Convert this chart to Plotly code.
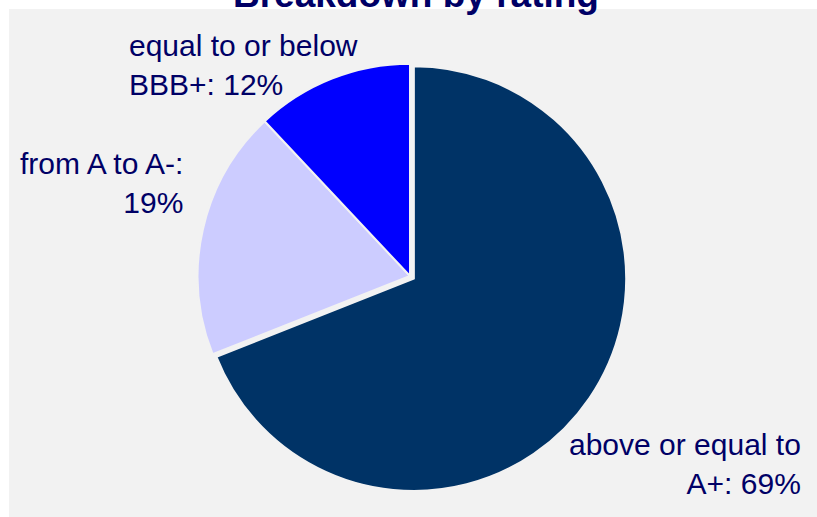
import plotly.graph_objects as go

# Rating buckets and their share of the portfolio (%)
categories = ["above or equal to A+", "from A to A-", "equal to or below BBB+"]
shares = [69, 19, 12]
label_heads = ["above or equal to", "from A to A-:", "equal to or below"]
label_tails = ["A+: ", "", "BBB+: "]
slice_colors = ["#003366", "#ccccff", "#0000ff"]
pulls = [0.022, 0, 0]

W, H = 817, 517
ML, MR, MT, MB = 20, 17, 59, 24
BG = "#f2f2f2"
TEXT = "#000066"
FONT = "Liberation Sans, Arial, sans-serif"

fig = go.Figure(
    go.Pie(
        labels=categories,
        values=shares,
        sort=False,
        direction="clockwise",
        rotation=0,
        pull=pulls,
        marker=dict(colors=slice_colors, line=dict(color=BG, width=2)),
        textinfo="none",
        showlegend=False,
        hoverinfo="skip",
    )
)

pw, ph = W - ML - MR, H - MT - MB


def to_paper(px, py):
    """Convert a pixel position (from the top-left) to paper units."""
    return (px - ML) / pw, (H - MB - py) / ph


# grey panel behind the pie, leaving a thin white frame on the top and left
x0, y1 = to_paper(9, 9)
x1, y0 = to_paper(W, H)
fig.add_shape(
    type="rect", xref="paper", yref="paper", layer="below",
    x0=x0, x1=x1, y0=y0, y1=y1,
    fillcolor=BG, line=dict(width=0),
)

# slice labels: text block anchor (pixels) and alignment for each slice
label_spots = [(803, 464, "right"), (185, 183, "right"), (127, 65, "left")]
total = sum(shares)
for head, tail, v, (lx, ly, side) in zip(label_heads, label_tails, shares, label_spots):
    ax, ay = to_paper(lx, ly)
    fig.add_annotation(
        x=ax, y=ay, xref="paper", yref="paper",
        xanchor=side, yanchor="middle", align=side,
        text=f"{head}<br>{tail}{round(100 * v / total)}%",
        showarrow=False,
        font=dict(family=FONT, size=30, color=TEXT),
    )

# chart title, sitting at the very top edge of the page
tx, ty = to_paper(416, -5)
fig.add_annotation(
    x=tx, y=ty, xref="paper", yref="paper",
    xanchor="center", yanchor="middle",
    text="<b>Breakdown by rating</b>",
    showarrow=False,
    font=dict(family=FONT, size=37, color=TEXT),
)

fig.update_layout(
    width=W, height=H,
    margin=dict(l=ML, r=MR, t=MT, b=MB),
    paper_bgcolor="white",
)

fig.write_html("out.html")
